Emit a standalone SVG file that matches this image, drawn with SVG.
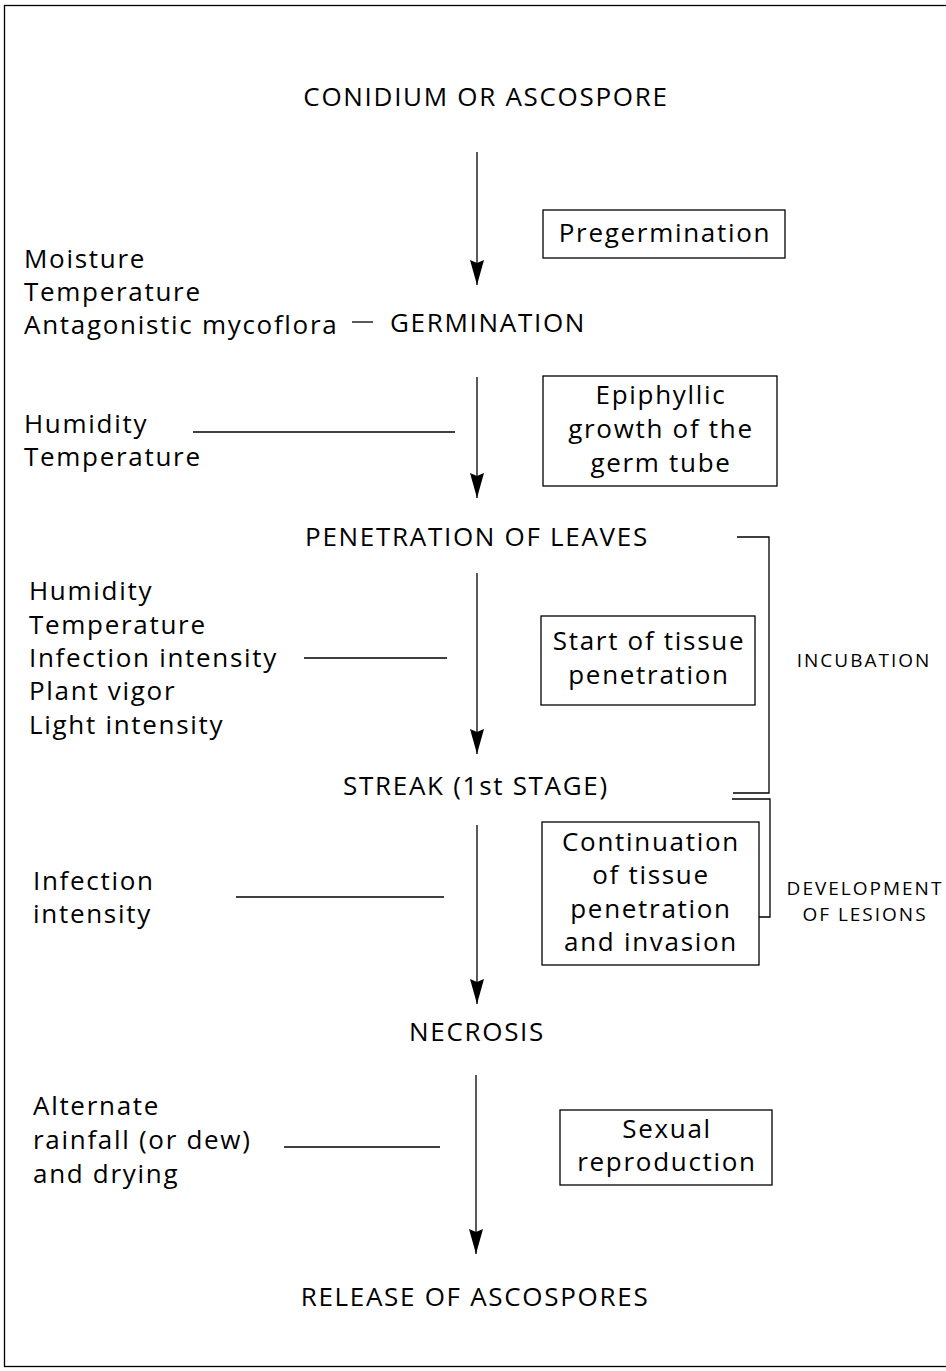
<svg xmlns="http://www.w3.org/2000/svg" width="946" height="1371" viewBox="0 0 946 1371">
<defs>
<style>
text{font-family:"Open Sans","Noto Sans","Liberation Sans",sans-serif;font-size:26px;letter-spacing:1.7px;fill:#000}
.c{text-anchor:middle}
.s{font-size:19px;letter-spacing:2px;text-anchor:middle}
.ln{stroke:#000;stroke-width:1.3;fill:none}
.bx{stroke:#000;stroke-width:1.3;fill:#fff}
</style>
<marker id="ah" markerWidth="26" markerHeight="16" refX="25" refY="7" orient="auto" markerUnits="userSpaceOnUse" viewBox="0 0 26 14">
<path d="M0,0 L25,7 L0,14 L3,7 Z" fill="#000"/>
</marker>
</defs>
<rect x="4.5" y="5.5" width="960" height="1361" fill="#fff" stroke="#000" stroke-width="1.3"/>
<g id="connectors">
<line class="ln" x1="477" y1="152" x2="477" y2="285" marker-end="url(#ah)"/>
<line class="ln" x1="477" y1="377" x2="477" y2="498" marker-end="url(#ah)"/>
<line class="ln" x1="477" y1="573" x2="477" y2="754" marker-end="url(#ah)"/>
<line class="ln" x1="477" y1="825" x2="477" y2="1004" marker-end="url(#ah)"/>
<line class="ln" x1="476" y1="1075" x2="476" y2="1254" marker-end="url(#ah)"/>
<line class="ln" x1="352" y1="322" x2="373" y2="322"/>
<line class="ln" x1="193" y1="432" x2="455" y2="432"/>
<line class="ln" x1="304" y1="658" x2="447" y2="658"/>
<line class="ln" x1="236" y1="897" x2="444" y2="897"/>
<line class="ln" x1="284" y1="1147" x2="440" y2="1147"/>
<polyline class="ln" points="737,537 769,537 769,793 733,793"/>
<polyline class="ln" points="732,799 770,799 770,917 740,917"/>
</g>
<g id="conidium"><text class="c" x="486" y="106">CONIDIUM OR ASCOSPORE</text></g>
<g id="pregermination"><rect class="bx" x="543" y="210" width="242" height="48"/><text class="c" x="665" y="242">Pregermination</text></g>
<g id="factors1"><text x="24" y="268">Moisture</text><text x="24" y="301">Temperature</text><text x="24" y="334">Antagonistic mycoflora</text></g>
<g id="germination"><text x="390" y="332">GERMINATION</text></g>
<g id="factors2"><text x="24" y="433">Humidity</text><text x="24" y="466">Temperature</text></g>
<g id="epiphyllic"><rect class="bx" x="543" y="376" width="234" height="110"/><text class="c" x="661" y="404">Epiphyllic</text><text class="c" x="661" y="438">growth of the</text><text class="c" x="661" y="472">germ tube</text></g>
<g id="penetration"><text class="c" x="477" y="546">PENETRATION OF LEAVES</text></g>
<g id="factors3"><text x="29" y="600">Humidity</text><text x="29" y="634">Temperature</text><text x="29" y="667">Infection intensity</text><text x="29" y="700">Plant vigor</text><text x="29" y="734">Light intensity</text></g>
<g id="start"><rect class="bx" x="541" y="616" width="214" height="89"/><text class="c" x="649" y="650">Start of tissue</text><text class="c" x="649" y="684">penetration</text></g>
<g id="incubation"><text class="s" x="864" y="667">INCUBATION</text></g>
<g id="streak"><text class="c" x="476" y="795">STREAK (1st STAGE)</text></g>
<g id="factors4"><text x="33" y="890">Infection</text><text x="33" y="923">intensity</text></g>
<g id="continuation"><rect class="bx" x="542" y="822" width="217" height="143"/><text class="c" x="651" y="851">Continuation</text><text class="c" x="651" y="884">of tissue</text><text class="c" x="651" y="918">penetration</text><text class="c" x="651" y="951">and invasion</text></g>
<g id="lesions"><text class="s" x="865" y="895">DEVELOPMENT</text><text class="s" x="865" y="921">OF LESIONS</text></g>
<g id="necrosis"><text class="c" x="477" y="1041">NECROSIS</text></g>
<g id="factors5"><text x="33" y="1115">Alternate</text><text x="33" y="1149">rainfall (or dew)</text><text x="33" y="1183">and drying</text></g>
<g id="sexual"><rect class="bx" x="560" y="1110" width="212" height="75"/><text class="c" x="667" y="1138">Sexual</text><text class="c" x="667" y="1171">reproduction</text></g>
<g id="release"><text class="c" x="475" y="1306">RELEASE OF ASCOSPORES</text></g>
</svg>
